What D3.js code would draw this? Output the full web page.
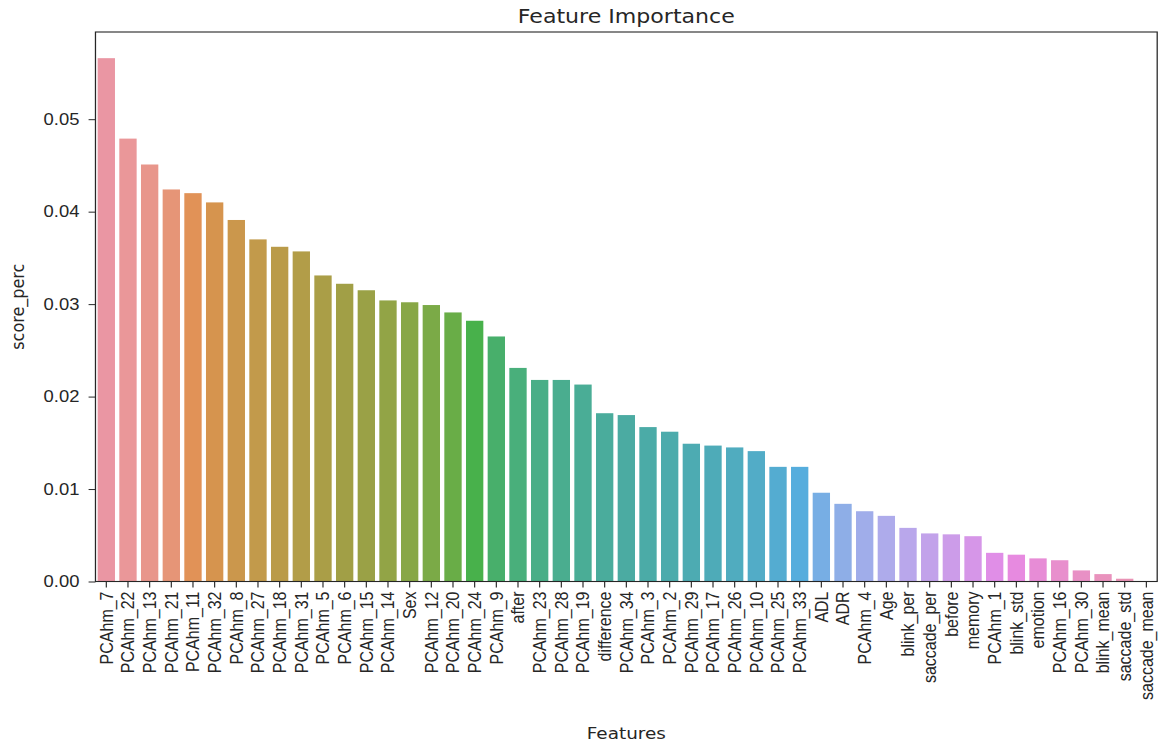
<!DOCTYPE html>
<html>
<head>
<meta charset="utf-8">
<script src="https://cdn.jsdelivr.net/npm/d3@7"></script>
<style>
  body { margin: 0; background: #fff; }
  #chart { width: 1171px; height: 745px; }
</style>
</head>
<body>
<div id="chart"></div>
<script>
// data
var features = ["PCAhm_7","PCAhm_22","PCAhm_13","PCAhm_21","PCAhm_11","PCAhm_32","PCAhm_8","PCAhm_27",
    "PCAhm_18","PCAhm_31","PCAhm_5","PCAhm_6","PCAhm_15","PCAhm_14","Sex","PCAhm_12","PCAhm_20","PCAhm_24",
    "PCAhm_9","after","PCAhm_23","PCAhm_28","PCAhm_19","difference","PCAhm_34","PCAhm_3","PCAhm_2","PCAhm_29",
    "PCAhm_17","PCAhm_26","PCAhm_10","PCAhm_25","PCAhm_33","ADL","ADR","PCAhm_4","Age","blink_per",
    "saccade_per","before","memory","PCAhm_1","blink_std","emotion","PCAhm_16","PCAhm_30","blink_mean",
    "saccade_std","saccade_mean"];

var scores = [0.0566,0.0479,0.0451,0.0424,0.0420,0.0410,0.0391,0.0370,0.0362,0.0357,
    0.0331,0.0322,0.0315,0.0304,0.0302,0.0299,0.0291,0.0282,0.0265,0.0231,
    0.0218,0.0218,0.0213,0.0182,0.0180,0.0167,0.0162,0.0149,0.0147,0.0145,
    0.0141,0.0124,0.0124,0.0096,0.0084,0.0076,0.0071,0.0058,0.0052,0.0051,
    0.0049,0.0031,0.0029,0.0025,0.0023,0.0012,0.0008,0.0003,0.00002];

var yTicks = [0, 0.01, 0.02, 0.03, 0.04, 0.05];

var titleText = "Feature Importance";
var xLabel = "Features";
var yLabel = "score_perc";

// husl palette (same maths as seaborn's husl module), then desaturated like barplot does
var M = [[3.2406, -1.5372, -0.4986], [-0.9689, 1.8758, 0.0415], [0.0557, -0.2040, 1.0570]];
var refU = 0.19784, refV = 0.46834;

function maxChroma(L, H) {
    var hrad = H / 180 * Math.PI;
    var sinH = Math.sin(hrad), cosH = Math.cos(hrad);
    var sub1 = Math.pow(L + 16, 3) / 1560896;
    var sub2 = sub1 > 0.008856 ? sub1 : L / 903.3;
    var result = Infinity;
    M.forEach(function(row) {
        var m1 = row[0], m2 = row[1], m3 = row[2];
        var top = (0.99915 * m1 + 1.05122 * m2 + 1.14460 * m3) * sub2;
        var rbottom = 0.86330 * m3 - 0.17266 * m2;
        var lbottom = 0.12949 * m3 - 0.38848 * m1;
        var bottom = (rbottom * sinH + lbottom * cosH) * sub2;
        [0, 1].forEach(function(t) {
            var C = L * (top - 1.05122 * t) / (bottom + 0.17266 * sinH * t);
            if (C > 0 && C < result) result = C;
        });
    });
    return result;
}

function huslToRgb(H, S, L) {
    var C = maxChroma(L, H) / 100 * S;
    var hrad = H / 180 * Math.PI;
    var U = C * Math.cos(hrad), V = C * Math.sin(hrad);
    var t = (L + 16) / 116;
    var Y = Math.pow(t, 3) > 0.008856 ? Math.pow(t, 3) : (116 * t - 16) / 903.3;
    var varU = U / (13 * L) + refU;
    var varV = V / (13 * L) + refV;
    var X = 0 - (9 * Y * varU) / ((varU - 4) * varV - varU * varV);
    var Z = (9 * Y - 15 * varV * Y - varV * X) / (3 * varV);
    return M.map(function(row) {
        var c = row[0] * X + row[1] * Y + row[2] * Z;
        c = c <= 0.0031308 ? 12.92 * c : 1.055 * Math.pow(c, 1 / 2.4) - 0.055;
        return Math.max(0, Math.min(1, c)) * 255;
    });
}

var n = features.length;
var colors = features.map(function(f, i) {
    var h = ((i / n + 0.01) % 1) * 359;
    var rgb = huslToRgb(h, 0.9 * 99, 0.7 * 99);
    var c = d3.hsl(d3.rgb(rgb[0], rgb[1], rgb[2]));
    c.s *= 0.75;
    return c.formatHex();
});

// the reference is stretched sideways, so draw in a narrower box and let the viewBox widen it
var vbWidth = 1018, vbHeight = 745;
var margin = {top: 32, right: 12, bottom: 163.5, left: 83};
var width = vbWidth - margin.left - margin.right;
var height = vbHeight - margin.top - margin.bottom;
var ink = "#262626";

var svg = d3.select("#chart")
    .append("svg")
        .attr("width", 1171)
        .attr("height", 745)
        .attr("viewBox", "0 0 " + vbWidth + " " + vbHeight)
        .attr("preserveAspectRatio", "none")
        .style("font-family", "'DejaVu Sans', sans-serif")
    .append("g")
        .attr("transform", "translate(" + margin.left + "," + margin.top + ")");

var x = d3.scaleBand()
    .domain(features)
    .range([0, width])
    .paddingInner(0.2)
    .paddingOuter(0.1);

var y = d3.scaleLinear()
    .domain([0, d3.max(scores) * 1.05])
    .range([height, 0]);

// bars
svg.selectAll("rect.bar")
    .data(features)
    .enter()
    .append("rect")
        .classed("bar", true)
        .attr("x", function(d) { return x(d); })
        .attr("y", function(d, i) { return y(scores[i]); })
        .attr("width", x.bandwidth())
        .attr("height", function(d, i) { return height - y(scores[i]); })
        .attr("fill", function(d, i) { return colors[i]; });

// x axis
var xAxis = svg.append("g")
    .attr("transform", "translate(0," + height + ")")
    .call(d3.axisBottom(x).tickSize(6).tickSizeOuter(0).tickPadding(4));
xAxis.select(".domain").remove();
xAxis.selectAll("line").attr("stroke", ink);
xAxis.selectAll("text")
    .attr("transform", "rotate(-90)")
    .attr("x", -10)
    .attr("y", 0)
    .attr("dy", "0.35em")
    .attr("fill", ink)
    .style("font-size", "16px")
    .style("text-anchor", "end");

// y axis
var yAxis = svg.append("g")
    .call(d3.axisLeft(y).tickValues(yTicks).tickFormat(d3.format(".2f")).tickSize(6).tickSizeOuter(0).tickPadding(8));
yAxis.select(".domain").remove();
yAxis.selectAll("line").attr("stroke", ink);
yAxis.selectAll("text")
    .attr("fill", ink)
    .style("font-size", "16px");

// frame
svg.append("rect")
    .attr("x", 0)
    .attr("y", 0)
    .attr("width", width)
    .attr("height", height)
    .attr("fill", "none")
    .attr("stroke", ink)
    .attr("stroke-width", 1.1);

// title
svg.append("text")
    .attr("x", width / 2)
    .attr("y", -9)
    .attr("fill", ink)
    .style("font-size", "19.2px")
    .style("text-anchor", "middle")
    .text(titleText);

// x axis label
svg.append("text")
    .attr("x", width / 2)
    .attr("y", 707)
    .attr("fill", ink)
    .style("font-size", "16px")
    .style("text-anchor", "middle")
    .text(xLabel);

// y axis label
svg.append("text")
    .attr("transform", "translate(" + (15 - margin.left) + "," + (height / 2) + ") rotate(-90)")
    .attr("dy", "0.35em")
    .attr("fill", ink)
    .style("font-size", "16px")
    .style("text-anchor", "middle")
    .text(yLabel);
</script>
</body>
</html>
